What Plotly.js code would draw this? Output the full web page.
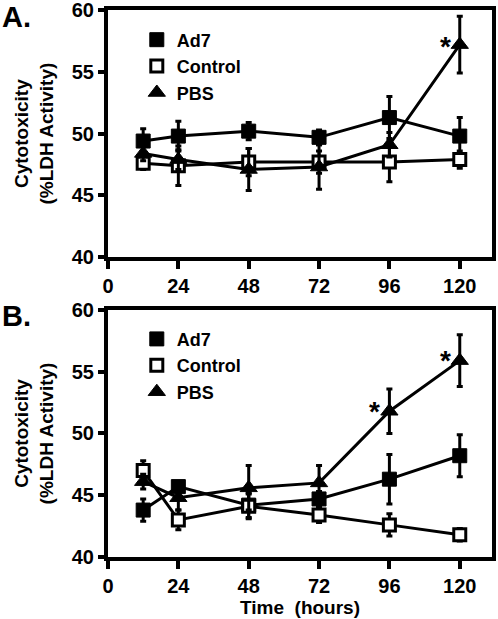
<!DOCTYPE html>
<html>
<head>
<meta charset="utf-8">
<script src="https://cdn.plot.ly/plotly-3.0.1.min.js"></script>
<style>
html,body{margin:0;padding:0;background:#fff;}
#chart{width:498px;height:619px;}
</style>
</head>
<body>
<div id="chart"></div>
<script>
// ---- data ----
var times = [12, 24, 48, 72, 96, 120];
var seriesNames = ["Ad7", "Control", "PBS"];

// Panel A
var ad7A = [49.4, 49.8, 50.2, 49.7, 51.3, 49.8];
var ad7AErr = [1.0, 1.2, 0.7, 0.6, 1.7, 1.5];
var ctrlA = [47.6, 47.4, 47.7, 47.7, 47.7, 47.9];
var ctrlAErr = [0.5, 1.6, 1.1, 0.9, 1.6, 0.7];
var pbsA = [48.4, 47.9, 47.1, 47.3, 49.1, 57.2];
var pbsAErr = [0.6, 0.8, 1.7, 1.8, 1.0, 2.3];

// Panel B
var ad7B = [43.8, 45.7, 44.2, 44.7, 46.3, 48.2];
var ad7BErr = [0.9, 0.4, 1.0, 0.6, 2.0, 1.7];
var ctrlB = [47.0, 43.0, 44.1, 43.4, 42.6, 41.8];
var ctrlBErr = [0.8, 0.8, 1.0, 0.6, 0.9, 0.5];
var pbsB = [46.1, 44.8, 45.6, 46.0, 51.8, 55.9];
var pbsBErr = [0.6, 1.0, 1.8, 1.4, 1.8, 2.1];

var xTicks = [0, 24, 48, 72, 96, 120];
var yTicks = [40, 45, 50, 55, 60];

// significance markers (time, value)
var sigA = [[120, 57.2]];
var sigB = [[96, 51.8], [120, 55.9]];

// ---- styles ----
var FONT = "Arial, 'Liberation Sans', sans-serif";
var styles = {
  "Ad7": {symbol: "square", size: 14, color: "#000", lineColor: "#000", lw: 1},
  "Control": {symbol: "square", size: 12, color: "#fff", lineColor: "#000", lw: 3},
  "PBS": {symbol: "triangle-up", size: 15, color: "#000", lineColor: "#000", lw: 1}
};

function mk(name, x, y, err, xa, ya) {
  var s = styles[name];
  return {
    type: "scatter", mode: "lines+markers", name: name, x: x, y: y,
    xaxis: xa, yaxis: ya, showlegend: false, cliponaxis: false,
    line: {color: "#000", width: 3},
    marker: {symbol: s.symbol, size: s.size, color: s.color, line: {color: s.lineColor, width: s.lw}},
    error_y: {type: "data", array: err, visible: true, color: "#000", thickness: 3, width: 3}
  };
}
function leg(name, legendId) {
  var s = styles[name];
  return {
    type: "scatter", mode: "markers", name: name, x: [null], y: [null],
    legend: legendId, showlegend: true,
    xaxis: legendId === "legend" ? "x" : "x2", yaxis: legendId === "legend" ? "y" : "y2",
    marker: {symbol: s.symbol, size: s.size, color: s.color, line: {color: s.lineColor, width: s.lw}}
  };
}

var traces = [
  mk("Ad7", times, ad7A, ad7AErr, "x", "y"),
  mk("Control", times, ctrlA, ctrlAErr, "x", "y"),
  mk("PBS", times, pbsA, pbsAErr, "x", "y"),
  mk("Ad7", times, ad7B, ad7BErr, "x2", "y2"),
  mk("Control", times, ctrlB, ctrlBErr, "x2", "y2"),
  mk("PBS", times, pbsB, pbsBErr, "x2", "y2")
];
seriesNames.forEach(function(n){ traces.push(leg(n, "legend")); });
seriesNames.forEach(function(n){ traces.push(leg(n, "legend2")); });

function xaxis(anchor, showTitle) {
  var a = {
    anchor: anchor, domain: [0, 1], range: [0, 131], tickvals: xTicks,
    ticktext: xTicks.map(String), ticklabeloverflow: "allow",
    showgrid: false, zeroline: false, showline: true, linecolor: "#000", linewidth: 4,
    mirror: true, ticks: "outside", ticklen: 8, tickwidth: 4, tickcolor: "#000",
    tickfont: {family: FONT, size: 20, color: "#000", weight: 700}
  };
  if (showTitle) {
    a.title = {text: "Time\u00a0\u00a0(hours)", font: {family: FONT, size: 19, color: "#000", weight: 700}, standoff: 6};
  }
  return a;
}
function yaxis(anchor, domain) {
  return {
    anchor: anchor, domain: domain, range: [40, 60], tickvals: yTicks,
    ticklabeloverflow: "allow",
    showgrid: false, zeroline: false, showline: true, linecolor: "#000", linewidth: 4,
    mirror: true, ticks: "outside", ticklen: 6, tickwidth: 4, tickcolor: "#000",
    tickfont: {family: FONT, size: 20, color: "#000", weight: 700},
    title: {text: "Cytotoxicity<br>(%LDH Activity)", font: {family: FONT, size: 19, color: "#000", weight: 700}, standoff: 14}
  };
}

var legendStyle = function(y) {
  return {
    x: 0.075, y: y, xanchor: "left", yanchor: "top", bgcolor: "rgba(0,0,0,0)",
    font: {family: FONT, size: 18, color: "#000", weight: 700},
    tracegroupgap: 0, itemwidth: 30
  };
};

var annotations = [];
sigA.forEach(function(p){
  annotations.push({xref: "x", yref: "y", x: p[0], y: p[1], text: "*", showarrow: false,
    xanchor: "right", yanchor: "middle", xshift: -7, yshift: -2,
    font: {family: FONT, size: 28, color: "#000", weight: 700}});
});
sigB.forEach(function(p){
  annotations.push({xref: "x2", yref: "y2", x: p[0], y: p[1], text: "*", showarrow: false,
    xanchor: "right", yanchor: "middle", xshift: -7, yshift: 0,
    font: {family: FONT, size: 28, color: "#000", weight: 700}});
});
annotations.push({xref: "paper", yref: "paper", x: -0.282, y: 1.02, xanchor: "left", yanchor: "top",
  text: "A.", showarrow: false, font: {family: FONT, size: 29, color: "#000", weight: 700}});
annotations.push({xref: "paper", yref: "paper", x: -0.282, y: 0.473, xanchor: "left", yanchor: "top",
  text: "B.", showarrow: false, font: {family: FONT, size: 29, color: "#000", weight: 700}});

var layout = {
  width: 498, height: 619,
  margin: {l: 108, r: 6, t: 10, b: 62},
  paper_bgcolor: "#fff", plot_bgcolor: "#fff",
  showlegend: true,
  xaxis: xaxis("y", false),
  yaxis: yaxis("x", [0.548, 1]),
  xaxis2: xaxis("y2", true),
  yaxis2: yaxis("x2", [0, 0.4516]),
  legend: legendStyle(0.979),
  legend2: legendStyle(0.432),
  annotations: annotations
};

Plotly.newPlot("chart", traces, layout, {displayModeBar: false, staticPlot: true});
</script>
</body>
</html>
